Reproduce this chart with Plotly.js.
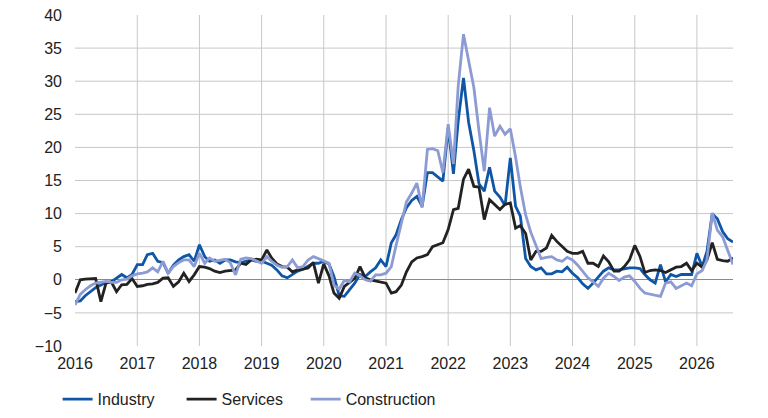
<!DOCTYPE html>
<html>
<head>
<meta charset="utf-8">
<script src="https://cdn.plot.ly/plotly-3.0.1.min.js"></script>
<style>
  html, body { margin: 0; padding: 0; background: #fff; }
  #chart { width: 768px; height: 418px; }
</style>
</head>
<body>
<div id="chart"></div>
<script>
// monthly values, Jan 2016 .. Aug 2026
var industry = [
  -3.3, -3.2, -2.4, -1.8, -1.2, -0.8, -0.4, -0.3, 0.2, 0.8, 0.3, 0.8,
  2.3, 2.3, 3.8, 4.0, 2.8, 2.6, 1.0, 2.2, 3.0, 3.5, 3.8, 2.8,
  5.3, 3.5, 2.8, 3.0, 2.5, 3.0, 3.0, 2.7, 2.6, 2.8, 3.0, 2.8,
  2.8, 2.5, 2.2, 1.5, 0.6, 0.3, 0.8, 1.3, 1.6, 2.0, 2.5, 2.5,
  2.8, 2.4, 0.5, -2.4, -2.5, -1.5, -0.5, 0.8, 0.5, 1.2, 1.8, 3.0,
  2.0, 5.6, 6.8, 9.1, 10.9, 12.0, 12.6, 11.1, 16.2, 16.2, 15.5, 14.9,
  23.0, 16.0, 24.0, 30.5, 23.8, 19.5, 14.5, 13.4, 17.0, 13.4, 12.5, 11.2,
  18.4, 11.1, 9.6, 3.2, 2.0, 1.5, 1.8, 0.9, 0.9, 1.3, 1.2, 1.9,
  1.0, 0.3, -0.6, -1.3, -0.5, 0.4, 1.3, 1.8, 1.5, 1.5, 1.7, 1.8,
  1.8, 1.7, 0.8, 0.0, -0.5, 2.3, -0.3, 0.8, 0.5, 0.8, 0.8, 0.8,
  4.0, 2.0, 4.3, 10.0, 9.2, 7.3, 6.2, 5.7
];
var services = [
  -2.0, 0.0, 0.1, 0.1, 0.2, -3.3, -0.5, -0.3, -1.8, -0.75, -0.7, 0.2,
  -1.0, -0.9, -0.7, -0.6, -0.4, 0.25, 0.3, -1.0, -0.3, 1.0, -0.25, 0.75,
  2.0, 1.9, 1.7, 1.3, 1.1, 1.3, 1.4, 1.5, 2.5, 2.3, 3.0, 3.1,
  3.0, 4.5, 3.3, 2.4, 2.0, 1.9, 1.2, 1.5, 1.6, 1.8, 2.6, -0.5,
  2.4, 0.6, -2.0, -2.8, -1.0, -0.4, 0.2, 2.0, 0.3, 0.0, -0.2, -0.3,
  -0.5, -2.0, -1.8, -0.8, 1.2, 2.7, 3.3, 3.5, 3.8, 5.0, 5.3, 5.6,
  7.6, 10.6, 10.8, 15.2, 16.7, 14.1, 14.0, 9.1, 12.1, 11.4, 10.6, 11.4,
  11.6, 7.8, 8.2, 7.0, 3.0, 4.3, 4.3, 4.8, 6.7, 5.8, 5.0, 4.3,
  4.0, 4.0, 4.3, 2.5, 2.5, 2.0, 3.6, 2.7, 1.3, 1.3, 2.0, 3.0,
  5.2, 3.5, 1.1, 1.4, 1.5, 1.4, 1.1, 1.5, 1.9, 2.0, 2.5, 1.4,
  2.5, 1.9, 3.0, 5.6, 3.1, 2.9, 2.8, 3.3
];
var construction = [
  -3.8, -2.2, -1.5, -0.9, -0.5, -0.4, -0.25, -0.4, -0.4, 0.0, 0.1, 0.6,
  0.9, 1.0, 1.2, 1.8, 1.2, 2.8, 1.0, 2.0, 2.6, 3.0, 3.0, 2.0,
  4.0, 2.5, 3.3, 2.8, 3.0, 3.1, 2.6, 0.75, 3.1, 3.3, 3.2, 2.8,
  2.5, 3.5, 2.8, 2.2, 1.9, 2.0, 3.0, 1.8, 2.0, 3.0, 3.5, 3.2,
  2.8, 2.5, -0.8, -1.4, -0.1, -0.3, 1.0, 0.6, 0.0, -0.2, 0.75, 0.75,
  1.0, 2.0, 5.2, 8.8, 11.8, 13.1, 14.6, 10.9, 19.7, 19.8, 19.5, 16.2,
  23.5, 17.5, 29.3, 37.1, 33.0, 29.0, 22.5, 16.4, 26.0, 21.7, 23.2, 22.0,
  22.8, 18.5, 14.0, 9.8, 7.2, 5.3, 3.2, 3.4, 3.5, 3.0, 2.8, 3.4,
  3.0, 2.2, 1.2, 0.3, -0.3, -1.0, 0.25, 1.0, 0.5, -0.1, 0.4, 0.6,
  -0.25, -1.3, -2.0, -2.2, -2.3, -2.5, -0.5, -0.3, -1.3, -0.9, -0.5, -0.9,
  0.9, 1.4, 3.0, 10.1, 7.5, 6.5, 4.5, 2.3
];
var years = [2016, 2017, 2018, 2019, 2020, 2021, 2022, 2023, 2024, 2025, 2026];
var yTicks = [-10, -5, 0, 5, 10, 15, 20, 25, 30, 35, 40];
var yGrid = [-5, 5, 10, 15, 20, 25, 30, 35];

// month dates for the x axis
var months = [];
for (var i = 0; i < industry.length; i++) {
    var y = 2016 + Math.floor(i / 12);
    var m = (i % 12) + 1;
    months.push(y + '-' + (m < 10 ? '0' + m : m) + '-01');
}

var font = { family: 'Liberation Sans, Arial, sans-serif', size: 16, color: '#222' };

var trace1 = {
    x: months, y: industry, name: 'Industry', type: 'scatter', mode: 'lines',
    line: { color: '#0f57a6', width: 2.8 }
};
var trace2 = {
    x: months, y: services, name: 'Services', type: 'scatter', mode: 'lines',
    line: { color: '#222222', width: 2.8 }
};
var trace3 = {
    x: months, y: construction, name: 'Construction', type: 'scatter', mode: 'lines',
    legend: 'legend2',
    line: { color: '#8c9bd3', width: 2.8 }
};

var shapes = [];
years.slice(1).forEach(function (yr) {
    shapes.push({
        type: 'line', layer: 'below', xref: 'x', yref: 'paper',
        x0: yr + '-01-01', x1: yr + '-01-01', y0: 0, y1: 1,
        line: { color: '#c8c8c8', width: 1 }
    });
});
yGrid.forEach(function (v) {
    shapes.push({
        type: 'line', layer: 'below', xref: 'paper', yref: 'y',
        x0: 0, x1: 1, y0: v, y1: v,
        line: { color: '#c8c8c8', width: 1 }
    });
});

var layout = {
    width: 768,
    height: 418,
    margin: { l: 74.5, r: 35, t: 15, b: 72, autoexpand: false },
    paper_bgcolor: '#fff',
    plot_bgcolor: '#fff',
    font: font,
    showlegend: true,
    legend: {
        orientation: 'h', xref: 'container', x: 0.075, xanchor: 'left',
        yref: 'container', y: 0.045, yanchor: 'middle',
        entrywidth: 79, entrywidthmode: 'pixels', font: font
    },
    legend2: {
        orientation: 'h', xref: 'container', x: 0.398, xanchor: 'left',
        yref: 'container', y: 0.045, yanchor: 'middle', font: font
    },
    xaxis: {
        type: 'date',
        range: ['2016-01-01', '2026-08-01'],
        tickvals: years.map(function (y) { return y + '-01-01'; }),
        ticktext: years.map(String),
        showgrid: false, zeroline: false, showline: false, ticks: '',
        ticklabelstandoff: 6
    },
    yaxis: {
        range: [-10, 40],
        tickvals: yTicks,
        showgrid: false,
        zeroline: true, zerolinecolor: '#8a8a8a', zerolinewidth: 1,
        showline: false, ticks: '',
        ticklabelstandoff: 12
    },
    shapes: shapes
};

Plotly.newPlot('chart', [trace1, trace2, trace3], layout, { displayModeBar: false, staticPlot: true });
</script>
</body>
</html>
